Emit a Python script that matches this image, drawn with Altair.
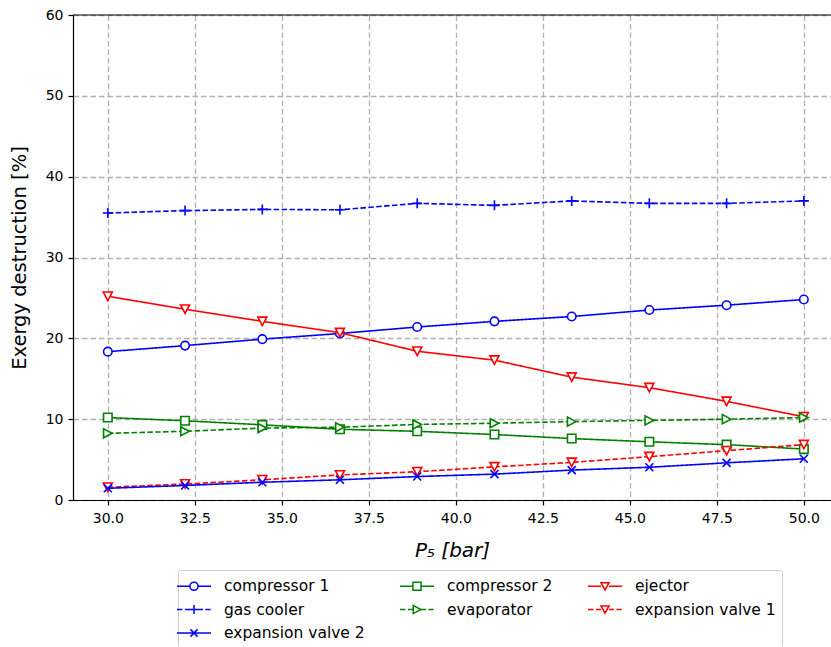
import altair as alt
import pandas as pd

# ---------------- data ----------------
x_vals = [30.0, 32.22, 34.44, 36.67, 38.89, 41.11, 43.33, 45.56, 47.78, 50.0]

compressor_1 = [18.35, 19.1, 19.9, 20.6, 21.4, 22.1, 22.7, 23.5, 24.1, 24.8]
compressor_2 = [10.2, 9.8, 9.3, 8.75, 8.5, 8.1, 7.6, 7.2, 6.85, 6.3]
ejector = [25.2, 23.6, 22.1, 20.7, 18.4, 17.3, 15.2, 13.9, 12.2, 10.3]
gas_cooler = [35.5, 35.8, 35.95, 35.9, 36.7, 36.45, 37.0, 36.7, 36.7, 37.0]
evaporator = [8.25, 8.5, 8.9, 9.0, 9.35, 9.5, 9.7, 9.85, 10.0, 10.2]
expansion_valve_1 = [1.57, 1.98, 2.5, 3.1, 3.5, 4.1, 4.65, 5.36, 6.1, 6.85]
expansion_valve_2 = [1.45, 1.8, 2.2, 2.5, 2.9, 3.2, 3.7, 4.05, 4.6, 5.1]

series_names = ["compressor 1", "compressor 2", "ejector", "gas cooler",
                "evaporator", "expansion valve 1", "expansion valve 2"]
series_values = [compressor_1, compressor_2, ejector, gas_cooler,
                 evaporator, expansion_valve_1, expansion_valve_2]

# legend reading order in the 3-column grid (row by row)
legend_order = ["compressor 1", "gas cooler", "expansion valve 1",
                "compressor 2", "evaporator", "expansion valve 2", "ejector"]

x_ticks = [30.0, 32.5, 35.0, 37.5, 40.0, 42.5, 45.0, 47.5, 50.0]
y_ticks = [0, 10, 20, 30, 40, 50, 60]

# ---------------- styles ----------------
BLUE, GREEN, RED = "#0000ff", "#008000", "#ff0000"
style = {
    "compressor 1": dict(color=BLUE, dash=[1, 0],
                         marker="M0.85,0A0.85,0.85,0,1,1,-0.85,0A0.85,0.85,0,1,1,0.85,0Z",
                         legend="M-1.89,0H-0.45M0.45,0H1.89M0.45,0A0.45,0.45,0,1,1,-0.45,0A0.45,0.45,0,1,1,0.45,0Z"),
    "compressor 2": dict(color=GREEN, dash=[1, 0],
                         marker="M-0.85,-0.85H0.85V0.85H-0.85Z",
                         legend="M-1.89,0H-0.45M0.45,0H1.89M-0.45,-0.45H0.45V0.45H-0.45Z"),
    "ejector": dict(color=RED, dash=[1, 0],
                    marker="M0,0.85L-0.9,-0.85L0.9,-0.85Z",
                    legend="M-1.89,0H-0.45M0.45,0H1.89M0,0.4L-0.45,-0.4L0.45,-0.4Z"),
    "gas cooler": dict(color=BLUE, dash=[5.5, 2.4],
                       marker="M-1,0H1M0,-1V1",
                       legend="M-1.89,0H-1.28M-1.01,0H-0.5M0.5,0H1.0M1.27,0H1.85M-0.5,0H0.5M0,-0.5V0.5"),
    "evaporator": dict(color=GREEN, dash=[5.5, 2.4],
                       marker="M0.85,0L-0.85,-0.9L-0.85,0.9Z",
                       legend="M-1.89,0H-1.28M-1.01,0H-0.42M0.42,0H1.0M1.27,0H1.85M0.42,0L-0.42,-0.45L-0.42,0.45Z"),
    "expansion valve 1": dict(color=RED, dash=[5.5, 2.4],
                              marker="M0,0.85L-0.9,-0.85L0.9,-0.85Z",
                              legend="M-1.89,0H-1.28M-1.01,0H-0.45M0.45,0H1.0M1.27,0H1.85M0,0.4L-0.45,-0.4L0.45,-0.4Z"),
    "expansion valve 2": dict(color=BLUE, dash=[1, 0],
                              marker="M-0.8,-0.8L0.8,0.8M-0.8,0.8L0.8,-0.8",
                              legend="M-1.89,0H1.89M-0.4,-0.4L0.4,0.4M-0.4,0.4L0.4,-0.4"),
}

rows = []
for name, vals in zip(series_names, series_values):
    for xv, yv in zip(x_vals, vals):
        rows.append({"x": xv, "value": yv, "series": name})
df = pd.DataFrame(rows)

# legend slot i (in the renderer's entry order, which follows series_names)
# shows the series legend_order[i]
slot_of = dict(zip(series_names, legend_order))
label_expr = "".join(
    f"datum.value == '{k}' ? '{v}' : " for k, v in slot_of.items()
) + "datum.label"

legend_df = pd.DataFrame({
    "x": [x_vals[0]] * len(series_names),
    "value": [vals[0] for vals in series_values],
    "label": series_names,
})

X_MIN, X_MAX = 29.0, 50.78
x_scale = alt.Scale(domain=[X_MIN, X_MAX], nice=False, zero=False)
y_scale = alt.Scale(domain=[0, 60], nice=False)

x_enc = alt.X("x:Q", scale=x_scale,
              axis=alt.Axis(values=x_ticks, format=".1f", title="P₅ [bar]",
                            titleFontStyle="italic", titleFontSize=20,
                            titleFontWeight="normal", titlePadding=15,
                            labelPadding=6))
y_enc = alt.Y("value:Q", scale=y_scale,
              axis=alt.Axis(values=y_ticks, format="d", title="Exergy destruction [%]",
                            titleFontSize=19.5, titleFontWeight="normal",
                            titlePadding=16, labelPadding=5))

base = alt.Chart(df)

layers = []
for i, name in enumerate(series_names):
    st = style[name]
    sub = base.transform_filter(alt.datum.series == name)
    line = sub.mark_line(strokeWidth=1.6, color=st["color"], strokeDash=st["dash"])
    if i == 0:
        line = line.encode(x=x_enc, y=y_enc)
    else:
        line = line.encode(x="x:Q", y="value:Q")
    pts = sub.mark_point(shape=st["marker"], size=100, filled=False, fill="white",
                         stroke=st["color"], color=st["color"], strokeWidth=1.6,
                         opacity=1).encode(x="x:Q", y="value:Q")
    layers += [line, pts]

legend_def = alt.Legend(
    title=None, orient="none", legendX=105, legendY=555, columns=3,
    columnPadding=31, rowPadding=4.5, symbolSize=324, labelOffset=20,
    labelFont="DejaVu Sans", labelFontSize=15.5, labelColor="black",
    labelExpr=label_expr,
    padding=6, strokeColor="#cccccc", cornerRadius=3, fillColor="white",
    symbolStrokeWidth=1.5, symbolFillColor="white", symbolOpacity=1,
)

legend_layer = alt.Chart(legend_df).transform_filter("false").mark_point(
    filled=False, opacity=1, strokeWidth=1.5
).encode(
    x="x:Q", y="value:Q",
    shape=alt.Shape("label:N",
                    scale=alt.Scale(domain=series_names,
                                    range=[style[slot_of[n]]["legend"] for n in series_names]),
                    legend=legend_def),
    stroke=alt.Stroke("label:N",
                      scale=alt.Scale(domain=series_names,
                                      range=[style[slot_of[n]]["color"] for n in series_names]),
                      legend=legend_def),
)

top_spine = alt.Chart(pd.DataFrame({"a": [0]})).mark_rule(
    color="black", strokeWidth=1.2
).encode(x=alt.datum(X_MIN), x2=alt.datum(X_MAX), y=alt.datum(60))

chart = alt.layer(*layers, legend_layer, top_spine).properties(
    width=758, height=485,
    padding={"left": 73, "top": 15, "right": 0, "bottom": 147},
    autosize=alt.AutoSizeParams(type="none"),
).configure_view(stroke=None).configure_axis(
    labelFont="DejaVu Sans", labelFontSize=14, labelColor="black",
    titleFont="DejaVu Sans", titleColor="black",
    domainColor="black", domainWidth=1.2,
    tickColor="black", tickSize=5, tickWidth=1.2,
    gridColor="#b0b0b0", gridDash=[5.5, 3], gridWidth=1.3,
)

chart.save("out.html", embed_options={"renderer": "svg", "actions": False})
